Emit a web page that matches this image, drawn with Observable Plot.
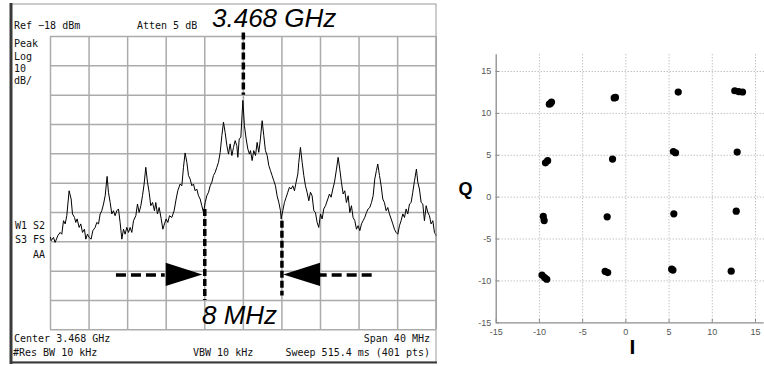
<!DOCTYPE html>
<html><head><meta charset="utf-8">
<script src="https://cdn.jsdelivr.net/npm/d3@7"></script>
<script src="https://cdn.jsdelivr.net/npm/@observablehq/plot@0.6"></script>
<style>
html,body{margin:0;padding:0;background:#fff;}
#wrap{position:relative;width:764px;height:366px;overflow:hidden;background:#fff;}
#left,#right{position:absolute;top:0;}
#left{left:0;} #right{left:440px;}
</style></head><body><div id="wrap"><div id="left"></div><div id="right"></div></div>
<script>
// ---------- Spectrum analyzer trace (offset from 3.468 GHz, MHz; level dBm) ----------
const freqMHz = [
-20.0,-19.93,-19.69,-19.52,-19.24,-19.00,-18.83,-18.65,-18.48,-18.31,-18.07,-17.86,-17.72,-17.51,-17.38,-17.24,-17.03,-16.86,-16.68,-16.48,
-16.34,-16.17,-15.99,-15.79,-15.61,-15.37,-15.20,-15.02,-14.85,-14.68,-14.50,-14.33,-14.13,-13.99,-13.81,-13.64,-13.47,-13.30,-13.12,-12.95,
-12.78,-12.60,-12.43,-12.26,-12.09,-11.91,-11.74,-11.57,-11.39,-11.15,-10.98,-10.81,-10.63,-10.46,-10.29,-10.12,-9.94,-9.77,-9.60,-9.42,
-9.22,-9.08,-8.91,-8.73,-8.52,-8.35,-8.18,-8.01,-7.83,-7.66,-7.42,-7.18,-6.97,-6.80,-6.56,-6.38,-6.21,-6.04,-5.86,-5.69,
-5.52,-5.34,-5.17,-5.00,-4.83,-4.65,-4.48,-4.31,-4.13,-3.96,-3.79,-3.61,-3.44,-3.27,-3.10,-2.92,-2.75,-2.58,-2.40,-2.23,
-2.06,-1.89,-1.71,-1.54,-1.37,-1.19,-1.02,-0.85,-0.68,-0.57,-0.43,-0.26,-0.05,
0.11,0.29,0.46,0.63,0.74,0.91,1.08,1.26,1.43,1.60,1.77,1.95,2.12,2.29,2.47,2.64,2.81,2.98,3.16,3.33,
3.50,3.68,3.85,3.92,4.09,4.26,4.44,4.61,4.78,4.95,5.13,5.30,5.47,5.65,5.75,5.92,6.10,6.27,6.44,6.61,
6.79,6.96,7.13,7.31,7.48,7.65,7.82,8.00,8.17,8.34,8.52,8.76,8.93,9.10,9.28,9.45,9.66,9.83,10.00,10.17,
10.35,10.52,10.69,10.87,11.04,11.21,11.38,11.56,11.73,11.90,12.08,12.25,12.42,12.59,12.77,12.94,13.11,13.29,13.46,13.63,
13.80,13.94,14.12,14.29,14.46,14.63,14.81,14.98,15.15,15.33,15.50,15.67,15.84,16.02,16.19,16.36,16.54,16.71,16.88,17.05,
17.23,17.40,17.57,17.75,17.95,18.09,18.26,18.44,18.61,18.78,18.96,19.13,19.30,19.47,19.65,19.82,20.0];
const levelDbm = [
-86.5,-87.6,-86.5,-88.2,-85.9,-84.8,-85.4,-80.8,-81.9,-79.1,-70.6,-73.4,-78.5,-79.7,-81.4,-80.2,-83.1,-81.9,-84.8,-83.7,
-87.1,-85.4,-86.5,-87.1,-84.2,-83.1,-81.4,-81.9,-78.5,-77.4,-75.1,-72.3,-65.7,-71.1,-74.6,-78.5,-77.4,-79.1,-77.4,-76.8,
-81.4,-87.1,-83.7,-85.4,-83.1,-84.8,-83.1,-84.8,-80.8,-79.1,-75.1,-78.0,-75.7,-72.3,-68.3,-62.6,-67.7,-71.1,-75.7,-74.6,
-77.4,-74.6,-78.5,-76.3,-80.2,-83.7,-81.9,-80.2,-81.4,-79.1,-79.7,-77.4,-73.4,-70.6,-68.3,-68.9,-62.6,-57.7,-60.9,-65.4,
-66.6,-68.9,-68.3,-70.6,-70.0,-72.3,-73.4,-75.7,-78.0,-74.6,-72.3,-71.1,-68.9,-67.7,-65.4,-64.3,-62.6,-60.9,-57.5,-51.8,
-47.2,-50.7,-55.2,-58.1,-54.6,-58.6,-55.8,-53.5,-55.2,-59.2,-52.9,-52.4,-39.8,
-48.4,-52.9,-56.3,-58.1,-56.9,-60.3,-56.9,-58.6,-54.1,-57.5,-52.9,-46.7,-51.8,-56.9,-58.6,-62.0,-63.7,-65.4,-67.2,-68.9,
-72.3,-74.6,-77.4,-80.2,-77.4,-74.6,-72.8,-71.1,-69.4,-70.0,-68.9,-70.6,-67.7,-64.9,-60.9,-55.8,-60.9,-65.4,-68.9,-71.1,
-74.0,-71.1,-72.3,-77.4,-78.0,-81.4,-83.1,-78.5,-80.2,-76.8,-75.7,-73.4,-71.7,-72.8,-70.0,-67.7,-63.2,-59.2,-63.2,-67.7,
-71.7,-70.6,-74.6,-72.3,-78.0,-75.7,-79.7,-80.8,-83.7,-82.5,-84.2,-81.9,-80.8,-79.7,-78.0,-76.8,-76.3,-74.6,-72.3,-66.6,
-63.7,-61.5,-65.4,-68.9,-73.4,-74.6,-77.4,-76.3,-78.5,-80.2,-81.9,-83.7,-84.8,-85.4,-82.5,-80.8,-78.5,-79.7,-76.8,-78.5,
-75.1,-74.6,-71.1,-67.2,-63.2,-67.7,-70.0,-74.6,-75.1,-80.8,-75.7,-78.0,-79.1,-81.9,-80.8,-84.8,-85.9];
const freqGridMHz = [-20,-16,-12,-8,-4,0,4,8,12,16,20];
const levelGridDbm = [-18,-28,-38,-48,-58,-68,-78,-88,-98,-108,-118];
// markers: centre and +/- 4 MHz (8 MHz spacing)
const markerFreq = [0, -4, 4];
const markerTop = [-16.8, -77.0, -81.0];
const markerBottom = [-38.0, -108.0, -106.5];
const arrowLevel = -99.3;
const arrowDashFrom = [-13.16, 13.36];
const arrowDashTo = [-8.1, 8.0];
const arrowBase = [-8.0, 8.0];
const arrowTip = [-4.2, 4.19];
const arrowHalf = 3.95;

// ---------- Constellation (I/Q) ----------
const iVals = [-8.85,-8.6,-8.7, -1.35,-1.2, 6.06, 12.6,13.05,13.5, -9.3,-9.05, -1.54, 5.5,5.75, 12.88,
  -9.55,-9.45, -2.16, 5.55, 12.77, -9.7,-9.4,-9.15, -2.4,-2.1, 5.3,5.45, 12.19];
const qVals = [11.1,11.35,11.2, 11.85,11.9, 12.54, 12.7,12.6,12.55, 4.1,4.35, 4.54, 5.45,5.3, 5.38,
  -2.3,-2.8, -2.35, -1.99, -1.67, -9.3,-9.6,-9.8, -8.85,-9.0, -8.6,-8.7, -8.84];
const iTicks = [-15,-10,-5,0,5,10,15];
const qTicks = [-15,-10,-5,0,5,10,15];

// ---------- LEFT: spectrum analyzer ----------
const spectrum = freqMHz.map((f, k) => ({f, L: levelDbm[k]}));
const markers = markerFreq.map((f, k) => ({f, y1: markerTop[k], y2: markerBottom[k]}));
const dashes = arrowDashFrom.map((a, k) => ({x1: a, x2: arrowDashTo[k], y: arrowLevel}));
const tri = [];
arrowBase.forEach((b, k) => {
  tri.push({k, x: b, y1: arrowLevel - arrowHalf, y2: arrowLevel + arrowHalf});
  tri.push({k, x: arrowTip[k], y1: arrowLevel, y2: arrowLevel});
});
const gridColor = "#ababab";
const left = Plot.plot({
  width: 440, height: 366,
  marginLeft: 50, marginRight: 4.3, marginTop: 36, marginBottom: 36.7,
  x: {domain: [-20, 20], axis: null},
  y: {domain: [-118, -18], axis: null},
  style: {background: "transparent", overflow: "visible"},
  marks: [
    Plot.ruleX(freqGridMHz, {stroke: gridColor, strokeWidth: 1.5}),
    Plot.ruleY(levelGridDbm, {stroke: gridColor, strokeWidth: 1.5}),
    Plot.line(spectrum, {x: "f", y: "L", stroke: "#000", strokeWidth: 1}),
    Plot.ruleX(markers, {x: "f", y1: "y1", y2: "y2", stroke: "#000", strokeWidth: 3.5, strokeDasharray: "7,3"}),
    Plot.ruleY(dashes, {x1: "x1", x2: "x2", y: "y", stroke: "#000", strokeWidth: 3.5, strokeDasharray: "10,5"}),
    Plot.areaY(tri, {x: "x", y1: "y1", y2: "y2", z: "k", fill: "#000"})
  ]
});
document.getElementById("left").appendChild(left);
const ls = d3.select(left);
// instrument frame
ls.append("rect").attr("x", 11).attr("y", 4).attr("width", 425).attr("height", 358)
  .attr("fill", "none").attr("stroke", "#9a9a9a").attr("stroke-width", 1);
ls.append("line").attr("x1", 11).attr("x2", 11).attr("y1", 3).attr("y2", 364)
  .attr("stroke", "#3a3a3a").attr("stroke-width", 3);
ls.append("line").attr("x1", 10).attr("x2", 437).attr("y1", 362.5).attr("y2", 362.5)
  .attr("stroke", "#3a3a3a").attr("stroke-width", 2);
const mono = (x, y, t, anchor) => ls.append("text").attr("x", x).attr("y", y).text(t)
  .attr("font-family", "DejaVu Sans Mono").attr("font-size", 10).attr("fill", "#111")
  .attr("text-anchor", anchor || "start");
mono(14, 29, "Ref −18 dBm");
mono(137, 29, "Atten 5 dB");
mono(14, 46.5, "Peak");
mono(14, 59.5, "Log");
mono(14, 71.5, "10");
mono(14, 83.5, "dB/");
mono(15, 228.5, "W1 S2");
mono(15, 242.5, "S3 FS");
mono(33, 258, "AA");
mono(14, 341.7, "Center 3.468 GHz");
mono(13, 356, "#Res BW 10 kHz");
mono(193, 356, "VBW 10 kHz");
mono(430, 341.7, "Span 40 MHz", "end");
mono(430, 356, "Sweep 515.4 ms (401 pts)", "end");
const big = (x, y, t) => ls.append("text").attr("x", x).attr("y", y).text(t)
  .attr("text-anchor", "start")
  .attr("font-family", "Liberation Sans, Arial, sans-serif").attr("font-style", "italic")
  .attr("font-size", 26).attr("fill", "#000");
big(212, 27, "3.468 GHz");
big(202, 324, "8 MHz");

// ---------- RIGHT: constellation ----------
const iq = iVals.map((v, k) => ({i: v, q: qVals[k]}));
const axisGray = "#8c8c8c";
const right = Plot.plot({
  width: 324, height: 366,
  marginLeft: 55.7, marginRight: 9, marginTop: 71, marginBottom: 43.7,
  x: {domain: [-15, 15], axis: null},
  y: {domain: [-15, 15], axis: null},
  style: {background: "transparent", overflow: "visible"},
  marks: [
    Plot.ruleX(iTicks.filter(v => v > -15), {x: d => d, y1: -15, y2: 17, stroke: "#a8a8a8", strokeWidth: 1, strokeDasharray: "1,2"}),
    Plot.ruleY(qTicks.filter(v => v > -15), {y: d => d, x1: -15, x2: 16, stroke: "#a8a8a8", strokeWidth: 1, strokeDasharray: "1,2"}),
    Plot.ruleY([-15], {x1: -15, x2: 16, stroke: axisGray, strokeWidth: 1.3}),
    Plot.ruleX([-15], {y1: -15, y2: 17, stroke: axisGray, strokeWidth: 1.3}),
    Plot.ruleX(iTicks, {x: d => d, y1: -15, y2: -14.6, stroke: axisGray, strokeWidth: 1}),
    Plot.ruleY(qTicks, {y: d => d, x1: -15, x2: -14.6, stroke: axisGray, strokeWidth: 1}),
    Plot.text(iTicks, {x: d => d, y: -15, dy: 9, text: d => String(d), fill: "#555", fontSize: 9, fontFamily: "Liberation Sans, Arial, sans-serif"}),
    Plot.text(qTicks, {x: -15, y: d => d, dx: -5, text: d => String(d), textAnchor: "end", fill: "#555", fontSize: 9, fontFamily: "Liberation Sans, Arial, sans-serif"}),
    Plot.dot(iq, {x: "i", y: "q", r: 3.6, fill: "#000", stroke: "none"})
  ]
});
document.getElementById("right").appendChild(right);
const rs = d3.select(right);
rs.append("text").attr("x", 25.5).attr("y", 195).attr("text-anchor", "middle").text("Q")
  .attr("font-family", "Liberation Sans, Arial, sans-serif").attr("font-weight", "bold").attr("font-size", 18).attr("fill", "#000");
rs.append("text").attr("x", 192.5).attr("y", 353.5).attr("text-anchor", "middle").text("I")
  .attr("font-family", "Liberation Sans, Arial, sans-serif").attr("font-weight", "bold").attr("font-size", 21).attr("fill", "#000");
</script></body></html>
